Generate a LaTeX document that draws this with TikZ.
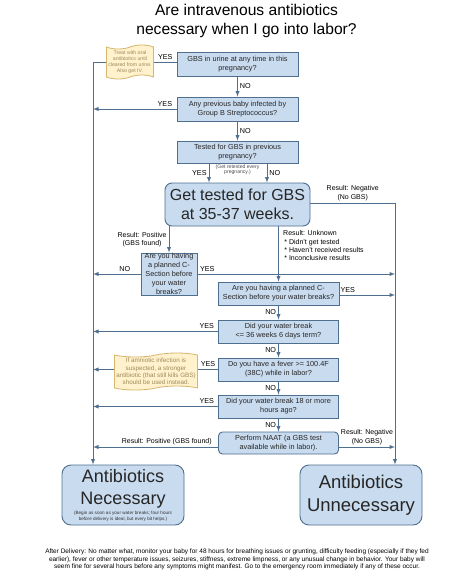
\documentclass[tikz,border=0pt]{standalone}
\usepackage{fontspec}
\setmainfont{Liberation Sans}
\usetikzlibrary{shapes.symbols}
\definecolor{boxfill}{HTML}{C9DBEF}
\definecolor{boxline}{HTML}{4F6F8F}
\definecolor{notefill}{HTML}{FFF2CC}
\definecolor{noteline}{HTML}{D6B66E}
\definecolor{notetext}{HTML}{A08A5C}
\begin{document}
\begin{tikzpicture}[x=1pt,y=-1pt,
  qbox/.style={draw=boxline, fill=boxfill, line width=0.9pt, inner sep=0pt, align=center,
    text=black!85, font=\fontsize{7.3}{9}\selectfont},
  bigq/.style={qbox, rounded corners=7pt, font=\fontsize{16}{19}\selectfont},
  naatbox/.style={qbox, rounded corners=4pt},
  endbox/.style={qbox, rounded corners=9pt, font=\fontsize{18}{22}\selectfont},
  notebox/.style={tape, draw=noteline, fill=notefill, line width=0.8pt, tape bend height=4pt,
    inner sep=0pt, align=center, text=notetext},
  wire/.style={draw=boxline, line width=0.9pt},
  arr/.style={wire, -latex},
  lbl/.style={font=\fontsize{7.2}{8}\selectfont, text=black, inner sep=2pt},
  res/.style={font=\fontsize{7}{8.3}\selectfont, text=black, align=center, inner sep=2pt}]
\fill[white] (0,0) rectangle (474,584);
% Title
\node[font=\fontsize{15.6}{19}\selectfont, align=center] (title) at (246.5,21)
  {Are intravenous antibiotics\\necessary when I go into labor?};
% Questions before the test
\node[qbox, minimum width=121, minimum height=24] (urine) at (237.5,64)
  {GBS in urine at any time in this\\pregnancy?};
\node[qbox, minimum width=121, minimum height=24] (prevbaby) at (237.5,109)
  {Any previous baby infected by\\Group B Streptococcus?};
\node[qbox, minimum width=121, minimum height=22] (prevtest) at (237.5,152)
  {Tested for GBS in previous\\pregnancy?};
\node[notebox, minimum width=47, minimum height=34, font=\fontsize{5.2}{6}\selectfont] (oralnote) at (130,62)
  {Treat with oral\\antibiotics until\\cleared from urine.\\Also get IV.};
\node[font=\fontsize{5.1}{5.5}\selectfont, text=black!70, align=center] (retest) at (237.5,169.5)
  {(Get retested every\\pregnancy.)};
% The test
\node[bigq, minimum width=145, minimum height=43] (gbstest) at (237.5,204.5)
  {Get tested for GBS\\at 35-37 weeks.};
\node[qbox, minimum width=56, minimum height=42] (csecpos) at (169,274)
  {Are you having\\a planned C-\\Section before\\your water\\breaks?};
\node[res, anchor=north west, align=left] (unknown) at (281,228.5)
  {Result: Unknown\\ \,* Didn't get tested\\ \,* Haven't received results\\ \,* Inconclusive results};
% Questions for unknown result
\node[qbox, minimum width=121, minimum height=23] (csecunk) at (278.5,293.5)
  {Are you having a planned C-\\Section before your water breaks?};
\node[qbox, minimum width=120, minimum height=23] (early) at (278.5,331.5)
  {Did your water break\\<= 36 weeks 6 days term?};
\node[qbox, minimum width=120, minimum height=23] (fever) at (278.5,369.5)
  {Do you have a fever >= 100.4F\\(38C) while in labor?};
\node[notebox, minimum width=83, minimum height=37, font=\fontsize{6.3}{7.3}\selectfont] (amnionote) at (156,371.5)
  {If amniotic infection is\\suspected, a stronger\\antibiotic (that still kills GBS)\\should be used instead.};
\node[qbox, minimum width=120, minimum height=23] (longbreak) at (278.5,406.5)
  {Did your water break 18 or more\\hours ago?};
\node[naatbox, minimum width=120, minimum height=22] (naat) at (278.5,443)
  {Perform NAAT (a GBS test\\available while in labor).};
% Outcomes
\node[endbox, minimum width=122, minimum height=60, text depth=17pt] (necessary) at (123,495)
  {Antibiotics\\Necessary};
\node[font=\fontsize{4.6}{5.8}\selectfont, text=black!80, align=center, inner sep=0pt] (begin) at (123,516.5)
  {(Begin as soon as your water breaks; four hours\\before delivery is ideal, but every bit helps.)};
\node[endbox, minimum width=122, minimum height=60, font=\fontsize{18.5}{23}\selectfont] (unnecessary) at (361,495)
  {Antibiotics\\Unnecessary};
\node[font=\fontsize{6.5}{7.6}\selectfont, align=center] (afterbirth) at (237,559.5)
  {After Delivery: No matter what, monitor your baby for 48 hours for breathing issues or grunting, difficulty feeding (especially if they fed\\
   earlier), fever or other temperature issues, seizures, stiffness, extreme limpness, or any unusual change in behavior. Your baby will\\
   seem fine for several hours before any symptoms might manifest. Go to the emergency room immediately if any of these occur.};
% Side lines
\coordinate (lx) at (93,62);
\coordinate (rx) at (395,203);
% Left side: antibiotics necessary
\draw[wire] (urine.west |- oralnote.east) -- (oralnote.east) node[lbl, midway, above] {YES};
\draw[arr] (oralnote.west) -- (lx) -- (lx |- necessary.north);
\draw[arr] (prevbaby.west) -- (prevbaby.west -| lx) node[lbl, pos=0.14, above] {YES};
\draw[arr] (csecpos.west) -- (csecpos.west -| lx) node[lbl, pos=0.33, above] {NO};
\draw[arr] (early.west) -- (early.west -| lx) node[lbl, pos=0.09, above] {YES};
\draw[wire] (fever.west) -- (fever.west -| amnionote.east) node[lbl, midway, above] {YES};
\draw[arr] (fever.west -| amnionote.west) -- (fever.west -| lx);
\draw[arr] (longbreak.west) -- (longbreak.west -| lx) node[lbl, pos=0.09, above] {YES};
\draw[arr] ([yshift=-4pt]naat.west) -- ([yshift=-4pt]naat.west -| lx) node[res, pos=0.41, above] {Result: Positive (GBS found)};
% Right side: antibiotics unnecessary
\draw[arr] (gbstest.east |- rx) -- (rx) node[res, midway, above] {Result: Negative\\(No GBS)} -- (rx |- unnecessary.north);
\draw[arr] (csecpos.east) -- (csecpos.east -| rx) node[lbl, pos=0.05, above] {YES};
\draw[arr] ([yshift=-1.5pt]csecunk.east) -- ([yshift=-1.5pt]csecunk.east -| rx) node[lbl, pos=0.15, above] {YES};
\draw[arr] ([yshift=-4pt]naat.east) -- ([yshift=-4pt]naat.east -| rx) node[res, midway, above] {Result: Negative\\(No GBS)};
% Down the middle
\draw[arr] (urine) -- (prevbaby) node[lbl, midway, right] {NO};
\draw[arr] (prevbaby) -- (prevtest) node[lbl, midway, right] {NO};
\draw[arr] ([xshift=-28.5pt]prevtest.south) -- ([xshift=-28.5pt]prevtest.south |- gbstest.north) node[lbl, midway, left] {YES};
\draw[arr] ([xshift=29.5pt]prevtest.south) -- ([xshift=29.5pt]prevtest.south |- gbstest.north) node[lbl, midway, right] {NO};
\draw[arr] (csecpos.north |- gbstest.south) -- (csecpos.north) node[res, midway, left] {Result: Positive\\(GBS found)};
\draw[arr] (csecunk.north |- gbstest.south) -- (csecunk.north);
\draw[arr] (csecunk) -- (early) node[lbl, midway, left] {NO};
\draw[arr] (early) -- (fever) node[lbl, midway, left] {NO};
\draw[arr] (fever) -- (longbreak) node[lbl, midway, left] {NO};
\draw[arr] (longbreak) -- (naat) node[lbl, midway, left] {NO};
\end{tikzpicture}
\end{document}
